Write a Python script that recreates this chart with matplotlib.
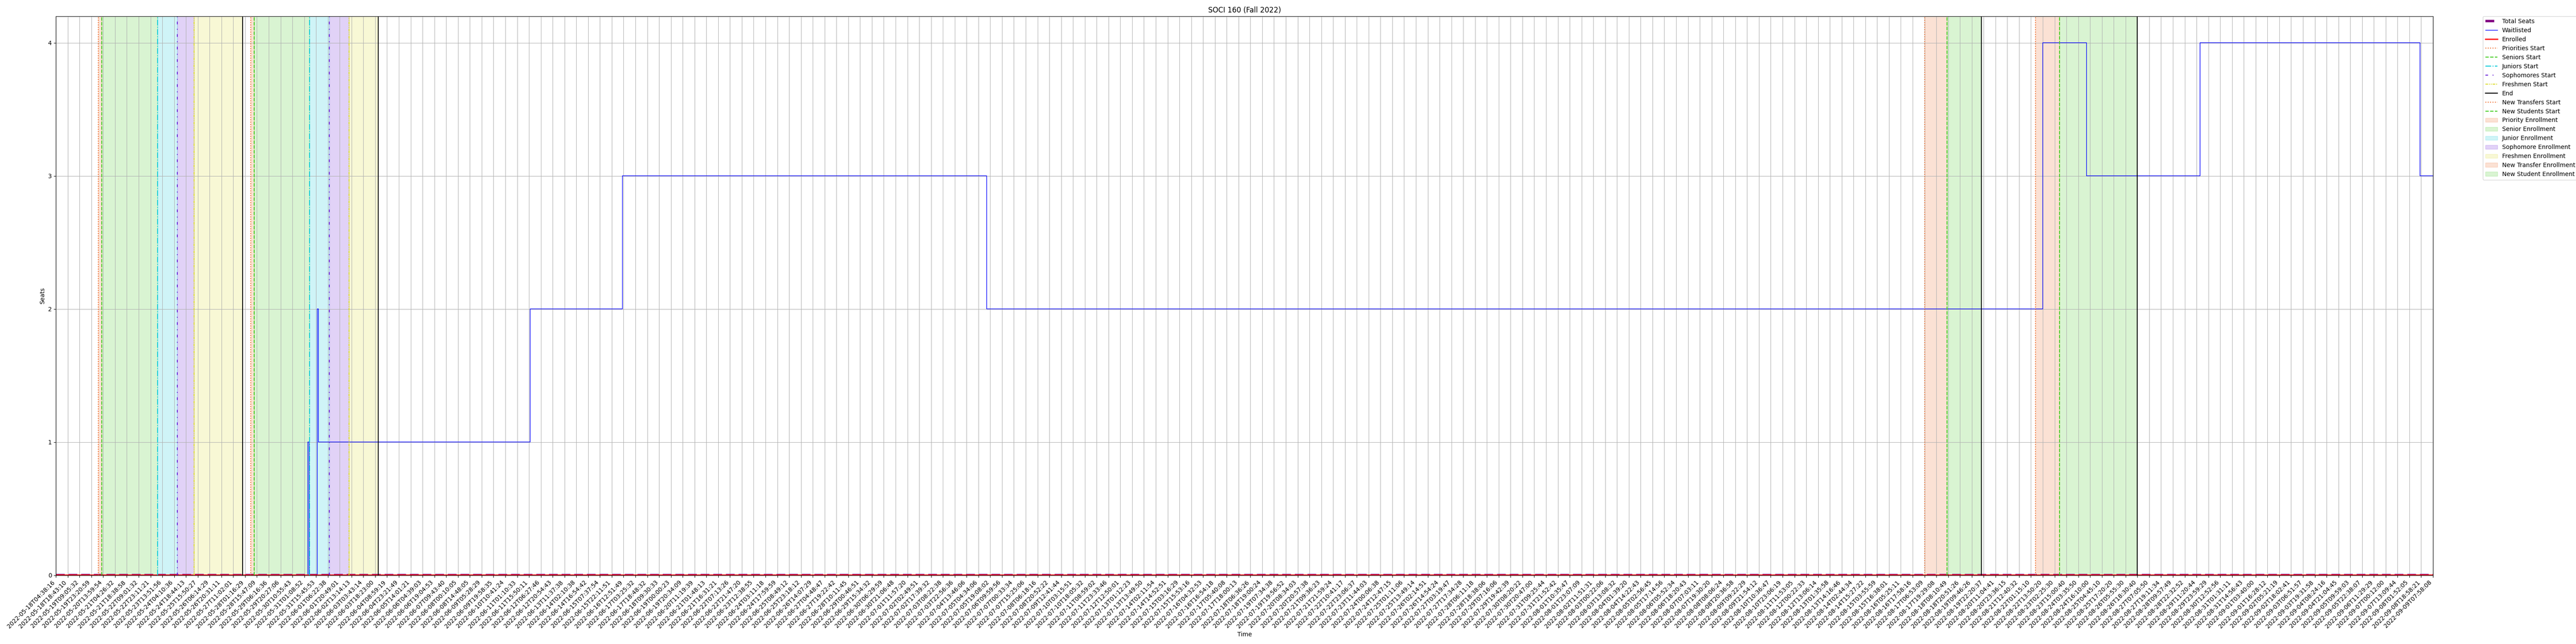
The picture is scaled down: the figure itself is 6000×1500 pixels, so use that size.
import numpy as np
import matplotlib.pyplot as plt

course_title = "SOCI 160 (Fall 2022)"

# x axis is the sample index; one labelled tick every TICK_STEP samples
TICK_STEP = 10

tick_labels = [
    "2022-05-18T04:38:16", "2022-05-18T18:43:10", "2022-05-19T09:05:32", "2022-05-19T23:20:59",
    "2022-05-20T13:59:54", "2022-05-21T04:26:32", "2022-05-21T18:38:58", "2022-05-22T09:01:32",
    "2022-05-22T23:11:21", "2022-05-23T13:51:56", "2022-05-24T04:10:36", "2022-05-24T18:44:13",
    "2022-05-25T15:50:27", "2022-05-26T06:14:29", "2022-05-26T20:31:11", "2022-05-27T11:02:01",
    "2022-05-28T01:16:29", "2022-05-28T15:47:09", "2022-05-29T06:16:36", "2022-05-29T20:27:06",
    "2022-05-30T10:55:43", "2022-05-31T01:08:52", "2022-05-31T15:45:53", "2022-06-01T06:22:38",
    "2022-06-01T20:49:01", "2022-06-02T13:14:13", "2022-06-03T03:43:14", "2022-06-03T18:23:00",
    "2022-06-04T08:59:19", "2022-06-04T23:21:49", "2022-06-05T14:01:21", "2022-06-06T04:39:03",
    "2022-06-06T19:04:53", "2022-06-07T09:43:40", "2022-06-08T00:10:05", "2022-06-08T14:48:05",
    "2022-06-09T05:28:29", "2022-06-09T19:58:35", "2022-06-10T10:41:24", "2022-06-11T01:10:33",
    "2022-06-11T15:50:11", "2022-06-12T06:27:46", "2022-06-12T20:54:43", "2022-06-13T11:37:38",
    "2022-06-14T02:10:38", "2022-06-14T16:54:42", "2022-06-15T07:37:54", "2022-06-15T22:11:51",
    "2022-06-16T12:51:49", "2022-06-17T03:25:32", "2022-06-17T18:48:32", "2022-06-18T09:30:33",
    "2022-06-19T00:00:23", "2022-06-19T20:34:09", "2022-06-20T11:19:39", "2022-06-21T01:48:13",
    "2022-06-21T16:31:21", "2022-06-22T07:13:26", "2022-06-22T21:47:20", "2022-06-23T12:38:55",
    "2022-06-24T03:11:18", "2022-06-24T17:59:59", "2022-06-25T08:49:12", "2022-06-25T23:18:12",
    "2022-06-26T14:07:29", "2022-06-27T04:48:47", "2022-06-27T19:22:42", "2022-06-28T10:11:45",
    "2022-06-29T00:46:51", "2022-06-29T15:34:32", "2022-06-30T06:29:59", "2022-06-30T21:06:48",
    "2022-07-01T11:57:20", "2022-07-02T02:49:51", "2022-07-02T17:39:32", "2022-07-03T08:22:38",
    "2022-07-03T22:56:36", "2022-07-04T13:46:06", "2022-07-05T04:34:06", "2022-07-05T19:08:02",
    "2022-07-06T09:59:56", "2022-07-07T00:33:34", "2022-07-07T15:25:06", "2022-07-08T06:18:16",
    "2022-07-08T20:52:22", "2022-07-09T12:41:44", "2022-07-10T03:15:51", "2022-07-10T18:05:32",
    "2022-07-11T08:59:02", "2022-07-11T23:33:46", "2022-07-12T12:50:01", "2022-07-13T01:12:23",
    "2022-07-13T13:49:50", "2022-07-14T02:11:54", "2022-07-14T14:52:51", "2022-07-15T03:16:29",
    "2022-07-15T15:53:16", "2022-07-16T04:32:53", "2022-07-16T16:54:18", "2022-07-17T05:40:08",
    "2022-07-17T18:00:13", "2022-07-18T06:36:26", "2022-07-18T19:00:24", "2022-07-19T07:34:38",
    "2022-07-19T19:56:52", "2022-07-20T08:34:03", "2022-07-20T20:57:38", "2022-07-21T09:36:23",
    "2022-07-21T21:59:24", "2022-07-22T10:41:17", "2022-07-22T23:06:37", "2022-07-23T11:44:03",
    "2022-07-24T00:06:38", "2022-07-24T12:47:15", "2022-07-25T01:11:06", "2022-07-25T13:49:14",
    "2022-07-26T02:14:51", "2022-07-26T14:54:24", "2022-07-27T03:19:47", "2022-07-27T17:34:28",
    "2022-07-28T06:11:18", "2022-07-28T18:38:06", "2022-07-29T07:16:06", "2022-07-29T19:42:39",
    "2022-07-30T08:20:22", "2022-07-30T20:47:00", "2022-07-31T09:25:44", "2022-07-31T21:52:42",
    "2022-08-01T10:35:47", "2022-08-01T23:07:09", "2022-08-02T11:51:31", "2022-08-03T00:22:06",
    "2022-08-03T13:08:32", "2022-08-04T01:39:20", "2022-08-04T14:22:43", "2022-08-05T02:56:45",
    "2022-08-05T17:14:56", "2022-08-06T05:52:34", "2022-08-06T18:20:43", "2022-08-07T07:03:11",
    "2022-08-07T19:30:20", "2022-08-08T08:06:24", "2022-08-08T20:36:58", "2022-08-09T09:22:29",
    "2022-08-09T21:54:12", "2022-08-10T10:36:47", "2022-08-10T23:06:19", "2022-08-11T11:53:05",
    "2022-08-12T00:22:33", "2022-08-12T13:06:14", "2022-08-13T01:35:58", "2022-08-13T14:16:46",
    "2022-08-14T02:44:34", "2022-08-14T15:27:22", "2022-08-15T03:55:59", "2022-08-15T16:38:01",
    "2022-08-16T05:25:11", "2022-08-16T17:58:16", "2022-08-17T06:53:09", "2022-08-17T19:29:08",
    "2022-08-18T08:10:49", "2022-08-18T20:51:26", "2022-08-19T09:46:26", "2022-08-19T22:20:37",
    "2022-08-20T11:04:41", "2022-08-20T23:36:15", "2022-08-21T12:40:32", "2022-08-22T01:15:10",
    "2022-08-22T13:50:20", "2022-08-23T02:25:30", "2022-08-23T15:00:40", "2022-08-24T03:35:50",
    "2022-08-24T16:10:00", "2022-08-25T04:45:10", "2022-08-25T17:20:20", "2022-08-26T05:55:30",
    "2022-08-26T18:30:40", "2022-08-27T07:05:50", "2022-08-27T19:11:34", "2022-08-28T09:57:49",
    "2022-08-28T22:32:52", "2022-08-29T11:20:44", "2022-08-29T23:59:29", "2022-08-30T12:52:56",
    "2022-08-31T01:31:11", "2022-08-31T14:56:43", "2022-09-01T03:40:00", "2022-09-01T16:28:12",
    "2022-09-02T05:21:19", "2022-09-02T18:02:41", "2022-09-03T06:51:57", "2022-09-03T19:31:58",
    "2022-09-04T08:24:16", "2022-09-04T21:04:45", "2022-09-05T09:59:03", "2022-09-05T22:38:07",
    "2022-09-06T11:29:29", "2022-09-07T00:12:00", "2022-09-07T13:09:44", "2022-09-08T01:52:05",
    "2022-09-08T18:58:21", "2022-09-09T07:58:08",
]

# counts as runs: sample index where a value starts, and that value
waitlist_start = [0, 213, 214, 221, 222, 401, 479, 787, 1680, 1717, 1813, 1999]
waitlist_value = [0, 1, 0, 2, 1, 2, 3, 2, 4, 3, 4, 3]
enrolled_start = [0]
enrolled_value = [0]
total_seats_start = [0]
total_seats_value = [0]

# enrollment phase boundaries (sample index)
priorities_start = [36.0, 164.8]
seniors_start = [38.7, 167.6]
juniors_start = [86.0, 214.6]
sophomores_start = [102.6, 231.3]
freshmen_start = [116.9, 247.8]
pass_end = [157.8, 272.5]
new_transfers_start = [1580.0, 1674.0]
new_students_start = [1599.0, 1694.0]
new_end = [1628.0, 1760.0]


def runs_to_series(starts, values, n):
    y = np.zeros(n)
    for s, v in zip(starts, values):
        y[s:] = v
    return y


n = (len(tick_labels) - 1) * TICK_STEP + 1
x = np.arange(n)
waitlisted = runs_to_series(waitlist_start, waitlist_value, n)
enrolled = runs_to_series(enrolled_start, enrolled_value, n)
total_seats = runs_to_series(total_seats_start, total_seats_value, n)

c_prio = '#ee6a2a'
c_sen = '#44cc22'
c_jun = '#11ccd8'
c_soph = '#6a22d8'
c_fresh = '#dcdc30'

fig = plt.figure(figsize=(60, 15), dpi=100)
ax = fig.add_subplot(1, 1, 1)
fig.subplots_adjust(left=0.0217, right=0.9445, top=0.975, bottom=0.107)

ax.plot(x, total_seats, color='purple', linestyle='--', linewidth=4, label='Total Seats')
ax.plot(x, waitlisted, color='blue', linewidth=1, drawstyle='steps-post', label='Waitlisted')
ax.plot(x, enrolled, color='red', linewidth=2, label='Enrolled')


def vlines(positions, label, **kw):
    for i, p in enumerate(positions):
        ax.axvline(p, label=label if i == 0 else '_nolegend_', **kw)


vlines(priorities_start, 'Priorities Start', color=c_prio, linestyle=':', linewidth=1.5)
vlines(seniors_start, 'Seniors Start', color=c_sen, linestyle='--', linewidth=1.5)
vlines(juniors_start, 'Juniors Start', color=c_jun, linestyle='-.', linewidth=1.5)
vlines(sophomores_start, 'Sophomores Start', color=c_soph, linestyle=(0, (3, 5, 1, 5)), linewidth=1.5)
vlines(freshmen_start, 'Freshmen Start', color=c_fresh, linestyle=(0, (3, 1, 1, 1, 1, 1)), linewidth=1.5)
vlines(pass_end + new_end, 'End', color='black', linestyle='-', linewidth=1.5)
vlines(new_transfers_start, 'New Transfers Start', color=c_prio, linestyle=':', linewidth=1.5)
vlines(new_students_start, 'New Students Start', color=c_sen, linestyle='--', linewidth=1.5)


def spans(starts, ends, label, color):
    for i, (a, b) in enumerate(zip(starts, ends)):
        ax.axvspan(a, b, color=color, alpha=0.2, label=label if i == 0 else '_nolegend_')


spans(priorities_start, seniors_start, 'Priority Enrollment', c_prio)
spans(seniors_start, juniors_start, 'Senior Enrollment', c_sen)
spans(juniors_start, sophomores_start, 'Junior Enrollment', c_jun)
spans(sophomores_start, freshmen_start, 'Sophomore Enrollment', c_soph)
spans(freshmen_start, pass_end, 'Freshmen Enrollment', c_fresh)
spans(new_transfers_start, new_students_start, 'New Transfer Enrollment', c_prio)
spans(new_students_start, new_end, 'New Student Enrollment', c_sen)

ax.set_xlim(0, n - 1)
ax.set_ylim(0, 4.2)
ax.set_yticks([0, 1, 2, 3, 4])
ax.set_xticks(x[::TICK_STEP])
ax.set_xticklabels(tick_labels, rotation=45, ha='right')
ax.grid(True)
ax.set_title(course_title)
ax.set_xlabel("Time")
ax.set_ylabel("Seats")
ax.legend(loc='upper left', bbox_to_anchor=(1.021, 1.0), borderaxespad=0)

fig.savefig("out.png", dpi=100)
